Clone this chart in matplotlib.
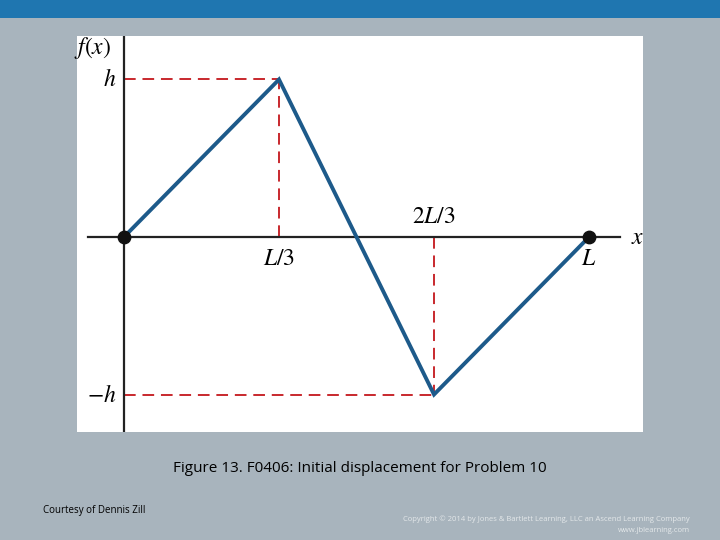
import matplotlib
matplotlib.use("Agg")
import matplotlib.pyplot as plt
from matplotlib.patches import Rectangle

plt.rcParams['mathtext.fontset'] = 'stix'

# data: L = 3, h = 1
L = 3.0
h = 1.0
xs = [0, L / 3, 2 * L / 3, L]
ys = [0, h, -h, 0]
end_pts_x = [0, L]
end_pts_y = [0, 0]

fig = plt.figure(figsize=(7.2, 5.4), dpi=100)
fig.patch.set_facecolor('#a8b4bd')
# top blue band
fig.patches.append(Rectangle((0, 1 - 18 / 540), 1, 18 / 540, transform=fig.transFigure,
                             facecolor='#1f76b0', edgecolor='none', zorder=0))

ax = fig.add_axes([77 / 720, 108 / 540, 566 / 720, 396 / 540])
ax.set_facecolor('white')
ax.set_xlim(-0.303, 3.348)
ax.set_ylim(-1.238, 1.276)
for s in ax.spines.values():
    s.set_visible(False)
ax.set_xticks([])
ax.set_yticks([])

red = '#c8282d'
blue = '#1d5a8a'

# axes lines
ax.plot([0, 0], [-1.238, 1.276], color='#222222', lw=1.6, zorder=2)
ax.plot([-0.23, 3.2], [0, 0], color='#222222', lw=1.6, zorder=2)

# dashed guides
ax.plot([0, xs[1]], [h, h], color=red, lw=1.4, ls=(0, (6, 3.5)), zorder=1)
ax.plot([xs[1], xs[1]], [0, h], color=red, lw=1.4, ls=(0, (6, 3.5)), zorder=1)
ax.plot([0, xs[2]], [-h, -h], color=red, lw=1.4, ls=(0, (6, 3.5)), zorder=1)
ax.plot([xs[2], xs[2]], [0, -h], color=red, lw=1.4, ls=(0, (6, 3.5)), zorder=1)

# displacement
ax.plot(xs, ys, color=blue, lw=2.8, zorder=3, solid_joinstyle='miter')
ax.scatter(end_pts_x, end_pts_y, s=80, color='#111111', zorder=4)

fs = 17
ax.text(-0.08, 1.2, r'$f(x)$', fontsize=fs, ha='right', va='center')
ax.text(-0.05, h, r'$h$', fontsize=fs, ha='right', va='center')
ax.text(-0.05, -h, r'$-h$', fontsize=fs, ha='right', va='center')
ax.text(xs[1], -0.06, r'$L/3$', fontsize=fs, ha='center', va='top')
ax.text(xs[2], 0.06, r'$2L/3$', fontsize=fs, ha='center', va='bottom')
ax.text(L, -0.06, r'$L$', fontsize=fs, ha='center', va='top')
ax.text(3.27, 0, r'$x$', fontsize=fs, ha='left', va='center')

fig.text(0.5, 1 - 468 / 540, 'Figure 13. F0406: Initial displacement for Problem 10',
         ha='center', va='center', fontsize=11, family='Open Sans')
fig.text(43 / 720, 1 - 511 / 540, 'Courtesy of Dennis Zill', ha='left', va='center',
         fontsize=7, family='Open Sans')
fig.text(690 / 720, 1 - 519 / 540,
         'Copyright \u00a9 2014 by Jones & Bartlett Learning, LLC an Ascend Learning Company',
         ha='right', va='center', fontsize=5.5, color='#e4e8ea', family='Open Sans')
fig.text(690 / 720, 1 - 530 / 540, 'www.jblearning.com', ha='right', va='center',
         fontsize=5.5, color='#e4e8ea', family='Open Sans')

fig.savefig('out.png', dpi=100, facecolor=fig.get_facecolor())
